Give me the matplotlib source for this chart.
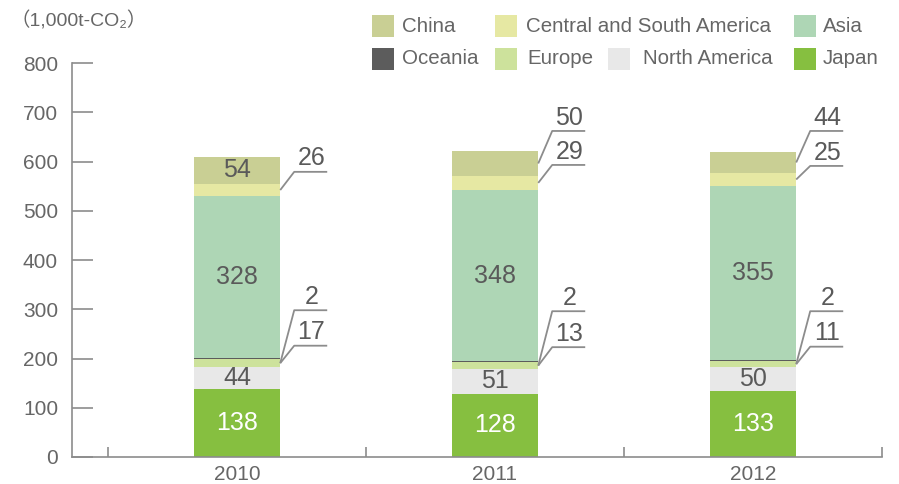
import matplotlib
matplotlib.use("Agg")
import matplotlib.pyplot as plt
from matplotlib.patches import Rectangle

plt.rcParams['font.family'] = ['Liberation Sans', 'Noto Sans CJK JP', 'DejaVu Sans']

# data (1,000t-CO2)
years = ['2010', '2011', '2012']
regions = ['Japan', 'North America', 'Europe', 'Oceania', 'Asia',
           'Central and South America', 'China']
japan = [138, 128, 133]
north_america = [44, 51, 50]
europe = [17, 13, 11]
oceania = [2, 2, 2]
asia = [328, 348, 355]
central_south_america = [26, 29, 25]
china = [54, 50, 44]
values = [japan, north_america, europe, oceania, asia, central_south_america, china]

colors = {
    'Japan': '#86bf40',
    'North America': '#e8e8e8',
    'Europe': '#cde29c',
    'Oceania': '#5c5c5c',
    'Asia': '#aed6b5',
    'Central and South America': '#e6e8a3',
    'China': '#c9cf94',
}

text_gray = '#666666'
line_gray = '#8c8c8c'

fig = plt.figure(figsize=(8.99, 4.84), dpi=100)
ax = fig.add_axes([72 / 899, 27 / 484, 810 / 899, 394 / 484])

width = 0.335
x = list(range(len(years)))
bottoms = [0] * len(years)
segs = {}  # region -> list of (bottom, top)
for name, vals in zip(regions, values):
    ax.bar(x, vals, width, bottom=bottoms, color=colors[name], linewidth=0)
    segs[name] = [(b, b + v) for b, v in zip(bottoms, vals)]
    bottoms = [b + v for b, v in zip(bottoms, vals)]

# labels inside bars
inside = {
    'Japan': [0, 1, 2],
    'North America': [0, 1, 2],
    'Asia': [0, 1, 2],
    'China': [0],
}
for name, idx in inside.items():
    vals = values[regions.index(name)]
    for i in idx:
        b, t = segs[name][i]
        ax.text(i, (b + t) / 2, str(vals[i]), ha='center', va='center',
                fontsize=18, color='white' if name == 'Japan' else '#5a5a5a')

# labels with leader lines: (year index, region, start region, line level)
leaders = [
    (0, 'Central and South America', 'Central and South America', 579),
    (0, 'Oceania', 'Europe', 298),
    (0, 'Europe', 'Europe', 226),
    (1, 'China', 'China', 662),
    (1, 'Central and South America', 'Central and South America', 593),
    (1, 'Oceania', 'Europe', 296),
    (1, 'Europe', 'Europe', 223),
    (2, 'China', 'China', 662),
    (2, 'Central and South America', 'Central and South America', 591),
    (2, 'Oceania', 'Europe', 296),
    (2, 'Europe', 'Europe', 224),
]
px = 1 / 258.0  # one pixel in x data units
for i, name, start, level in leaders:
    b, t = segs[start][i]
    y0 = (b + t) / 2
    xr = i + width / 2
    ax.plot([xr, xr + 14 * px, xr + 47 * px], [y0, level, level],
            color=line_gray, lw=1.3, solid_capstyle='butt', clip_on=False)
    ax.annotate(str(values[regions.index(name)][i]), (xr + 31 * px, level),
                xytext=(0, 1), textcoords='offset points',
                ha='center', va='bottom', fontsize=18, color='#5a5a5a')

ax.set_xlim(-0.5 - 36 * px, 2.5)
ax.set_ylim(0, 800)
ax.set_yticks(range(0, 801, 100))
ax.set_xticks(x)
ax.set_xticklabels(years)
ax.set_xticks([-0.5, 0.5, 1.5, 2.5], minor=True)
ax.tick_params(axis='y', direction='in', length=15, width=1.2, color=line_gray,
               labelsize=15, labelcolor=text_gray, pad=10)
ax.tick_params(axis='x', which='major', length=0, labelsize=15,
               labelcolor=text_gray, pad=6)
ax.tick_params(axis='x', which='minor', direction='in', length=7, width=1.2,
               color=line_gray)
for s in ['top', 'right']:
    ax.spines[s].set_visible(False)
for s in ['left', 'bottom']:
    ax.spines[s].set_color(line_gray)
    ax.spines[s].set_linewidth(1.2)

fig.text(10 / 899, 1 - 21 / 484, '（1,000t-CO₂）', ha='left', va='center',
         fontsize=14, color=text_gray)

# legend drawn by hand: (region, square x, text x, row center y) in pixels
legend_items = [
    ('China', 372, 402, 26),
    ('Central and South America', 495, 526, 26),
    ('Asia', 794, 823, 26),
    ('Oceania', 372, 402, 59),
    ('Europe', 495, 527, 59),
    ('North America', 608, 643, 59),
    ('Japan', 794, 823, 59),
]
for name, sx, tx, cy in legend_items:
    fig.patches.append(Rectangle((sx / 899, 1 - (cy + 11) / 484), 22 / 899, 22 / 484,
                                 transform=fig.transFigure, facecolor=colors[name],
                                 edgecolor='none'))
    fig.text(tx / 899, 1 - cy / 484, name, ha='left', va='center',
             fontsize=14.8, color=text_gray)

fig.savefig('out.png', dpi=100)
